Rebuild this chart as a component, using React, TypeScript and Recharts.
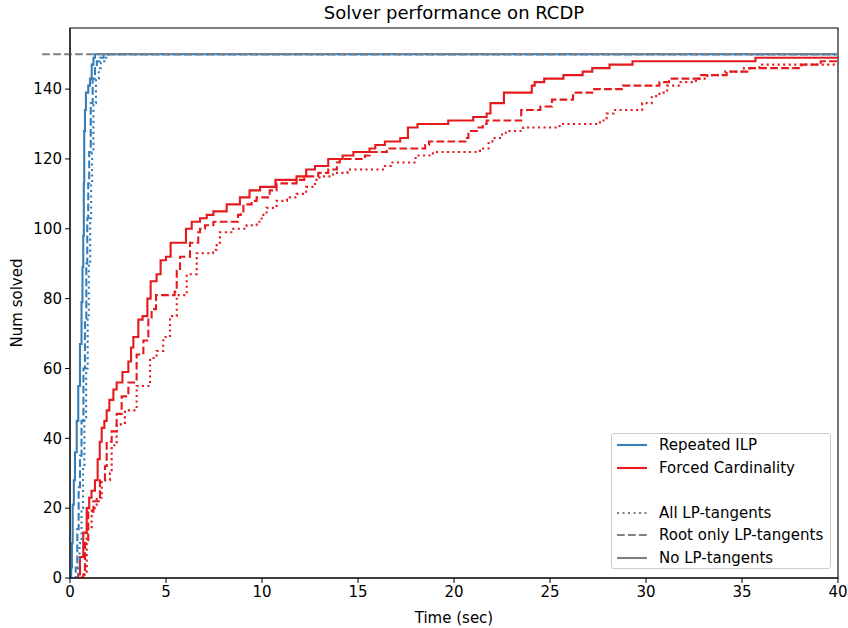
import React from 'react';
import { LineChart, Line, XAxis, YAxis, ReferenceLine, ReferenceArea, Legend } from 'recharts';

const xTicks = [0, 5, 10, 15, 20, 25, 30, 35, 40];
const yTicks = [0, 20, 40, 60, 80, 100, 120, 140];
const totalInstances = 150;

// Repeated ILP
const ilpNoneT = [0, 0.06, 0.1, 0.14, 0.2, 0.26, 0.35, 0.43, 0.52, 0.6, 0.65, 0.69, 0.72, 0.74, 0.78, 0.83, 0.95, 1.04, 1.13, 1.22, 1.3, 40];
const ilpNoneN = [0, 3, 10, 21, 28, 36, 45, 55, 67, 79, 89, 98, 113, 128, 134, 139, 141, 143, 147, 149, 150, 150];
const ilpRootT = [0, 0.3, 0.38, 0.45, 0.52, 0.6, 0.7, 0.78, 0.85, 0.9, 0.95, 1.0, 1.08, 1.18, 1.3, 1.4, 1.55, 1.75, 40];
const ilpRootN = [0, 3, 14, 26, 35, 45, 60, 74, 90, 103, 113, 122, 136, 143, 146, 148, 149, 150, 150];
const ilpAllT = [0, 0.42, 0.5, 0.6, 0.68, 0.75, 0.84, 0.92, 0.98, 1.05, 1.1, 1.15, 1.22, 1.35, 1.5, 1.6, 1.8, 2.0, 40];
const ilpAllN = [0, 3, 10, 20, 32, 45, 60, 74, 90, 103, 113, 122, 136, 143, 146, 148, 149, 150, 150];

// Forced Cardinality
const fcNoneT = [0, 0.43, 0.52, 0.69, 0.87, 1.0, 1.12, 1.3, 1.44, 1.55, 1.65, 1.79, 1.91, 2.05, 2.26, 2.43, 2.73, 3.04, 3.18, 3.3, 3.56, 3.78, 4.03, 4.2, 4.51, 4.72, 5.0, 5.24, 6.04, 6.34, 6.77, 7.12, 7.47, 8.16, 8.85, 9.35, 9.9, 10.7, 11.8, 12.3, 12.76, 13.45, 14.2, 14.76, 15.6, 15.9, 16.4, 17.2, 17.6, 18.1, 19.7, 21.0, 21.7, 21.9, 22.6, 24.05, 24.2, 24.7, 25.7, 26.7, 27.2, 28.1, 29.3, 35.7, 40];
const fcNoneN = [0, 1, 6, 13, 20, 23, 25, 28, 34, 39, 43, 45, 48, 51, 54, 56, 59, 62, 66, 69, 74, 75, 80, 85, 87, 91, 92, 96, 100, 102, 103, 104, 105, 107, 109, 111, 112, 114, 115, 117, 118, 120, 121, 122, 123, 124, 125, 126, 129, 130, 131, 132, 133, 136, 139, 141, 142, 143, 144, 145, 146, 147, 148, 149, 149];
const fcRootT = [0, 0.69, 0.78, 0.95, 1.22, 1.56, 1.82, 1.91, 2.17, 2.43, 2.69, 3.04, 3.47, 3.82, 4.08, 4.25, 4.48, 5.45, 5.56, 5.73, 6.25, 6.68, 6.77, 7.03, 7.47, 8.75, 8.9, 9.03, 9.46, 9.72, 10.4, 10.76, 11.8, 12.2, 12.93, 13.45, 13.9, 14.05, 15.36, 15.6, 16.5, 18.5, 18.7, 20.6, 20.75, 21.2, 21.5, 21.7, 23.5, 24.5, 25.1, 26.2, 27.3, 28.8, 30.7, 31.2, 32.8, 34.2, 35.4, 36.6, 38.1, 39.1, 40];
const fcRootN = [0, 1, 10, 19, 22, 28, 32, 39, 42, 47, 52, 56, 64, 68, 74, 77, 81, 82, 88, 92, 96, 99, 100, 101, 102, 104, 105, 107, 108, 109, 111, 113, 114, 115, 116, 117, 119, 120, 121, 122, 123, 124, 125, 126, 128, 129, 130, 131, 134, 135, 137, 139, 140, 141, 142, 143, 144, 145, 146, 146, 147, 148, 148];
const fcAllT = [0, 0.6, 0.87, 1.13, 1.39, 1.65, 2.08, 2.17, 2.43, 2.86, 3.47, 4.17, 4.51, 4.86, 5.21, 5.56, 6.08, 6.6, 7.45, 7.64, 7.81, 8.5, 9.2, 9.72, 9.98, 10.24, 10.76, 11.3, 11.8, 12.3, 12.76, 13.0, 13.7, 14.45, 16.4, 16.7, 18.0, 18.9, 21.35, 21.8, 22.0, 22.4, 22.7, 23.6, 25.5, 27.6, 27.95, 28.3, 29.8, 30.3, 30.7, 31.1, 31.8, 32.6, 33.2, 34.0, 35.1, 35.9, 40];
const fcAllN = [0, 1, 14, 20, 23, 28, 30, 38, 44, 48, 55, 63, 65, 69, 75, 81, 87, 93, 94, 96, 99, 100, 101, 102, 104, 106, 108, 109, 110, 112, 114, 115, 116, 117, 118, 119, 121, 122, 123, 125, 126, 127, 128, 129, 130, 131, 133, 134, 136, 138, 139, 141, 142, 143, 144, 145, 146, 147, 147];

const BLUE = '#377eb8';
const RED = '#e41a1c';
const GRAY = '#808080';
const DASHED = '7.7 3.3';
const DOTTED = '2.1 3.4';
const FONT = '"DejaVu Sans", sans-serif';
const TEXT_SIZE = 15;

const toPoints = (times: number[], counts: number[]) => times.map((t, i) => ({ t, n: counts[i] }));

const series = [
  { key: 'fc-all', data: toPoints(fcAllT, fcAllN), color: RED, dash: DOTTED },
  { key: 'fc-root', data: toPoints(fcRootT, fcRootN), color: RED, dash: DASHED },
  { key: 'fc-none', data: toPoints(fcNoneT, fcNoneN), color: RED, dash: undefined },
  { key: 'ilp-all', data: toPoints(ilpAllT, ilpAllN), color: BLUE, dash: DOTTED },
  { key: 'ilp-root', data: toPoints(ilpRootT, ilpRootN), color: BLUE, dash: DASHED },
  { key: 'ilp-none', data: toPoints(ilpNoneT, ilpNoneN), color: BLUE, dash: undefined },
];

const legendRows = [
  { label: 'Repeated ILP', color: BLUE, dash: undefined },
  { label: 'Forced Cardinality', color: RED, dash: undefined },
  { label: '', color: 'none', dash: undefined },
  { label: 'All LP-tangents', color: GRAY, dash: DOTTED },
  { label: 'Root only LP-tangents', color: GRAY, dash: DASHED },
  { label: 'No LP-tangents', color: GRAY, dash: undefined },
];

const renderLegend = () => (
  <div
    style={{
      boxSizing: 'border-box',
      width: 220,
      height: 136,
      border: '1px solid #cccccc',
      borderRadius: 3,
      background: 'rgba(255,255,255,0.8)',
      fontFamily: FONT,
      fontSize: TEXT_SIZE,
      color: '#000',
    }}
  >
    {legendRows.map((row, i) => (
      <div key={i} style={{ height: 22.5, display: 'flex', alignItems: 'center' }}>
        <svg width={42} height={10} style={{ marginLeft: 5 }}>
          {row.color !== 'none' && (
            <line x1={0} y1={5} x2={30} y2={5} stroke={row.color} strokeWidth={2.1} strokeDasharray={row.dash} />
          )}
        </svg>
        <span style={{ whiteSpace: 'nowrap' }}>{row.label}</span>
      </div>
    ))}
  </div>
);

export default function App() {
  return (
    <div style={{ position: 'absolute', left: 0, top: 0, width: 848, height: 628, background: '#fff' }}>
      <div
        style={{
          position: 'absolute',
          left: 70,
          top: 2,
          width: 768,
          textAlign: 'center',
          fontFamily: FONT,
          fontSize: 18,
          lineHeight: '22px',
          color: '#000',
        }}
      >
        Solver performance on RCDP
      </div>
      <LineChart
        width={848}
        height={628}
        margin={{ top: 28, right: 10, bottom: 0, left: 0 }}
        style={{ fontFamily: FONT }}
      >
        <XAxis
          type="number"
          dataKey="t"
          domain={[0, 40]}
          ticks={xTicks}
          allowDataOverflow
          height={50}
          tickSize={5}
          tickMargin={3}
          stroke="#000"
          tick={{ fill: '#000', fontSize: TEXT_SIZE }}
          label={{ value: 'Time (sec)', position: 'insideBottom', offset: 5, fill: '#000', fontSize: TEXT_SIZE }}
        />
        <YAxis
          type="number"
          domain={[0, 157.5]}
          ticks={yTicks}
          allowDataOverflow
          width={70}
          tickSize={5}
          tickMargin={3}
          stroke="#000"
          tick={{ fill: '#000', fontSize: TEXT_SIZE }}
          label={{
            value: 'Num solved',
            angle: -90,
            position: 'insideLeft',
            offset: 17,
            fill: '#000',
            fontSize: TEXT_SIZE,
            style: { textAnchor: 'middle' },
          }}
        />
        {series.map((s) => (
          <Line
            key={s.key}
            data={s.data}
            dataKey="n"
            type="stepAfter"
            stroke={s.color}
            strokeWidth={2.1}
            strokeDasharray={s.dash}
            dot={false}
            activeDot={false}
            isAnimationActive={false}
          />
        ))}
        <ReferenceLine
          segment={[{ x: -1.45, y: totalInstances }, { x: 40, y: totalInstances }]}
          stroke={GRAY}
          strokeWidth={2.1}
          strokeDasharray={DASHED}
          ifOverflow="visible"
        />
        <ReferenceArea x1={0} x2={40} y1={0} y2={157.5} fill="none" stroke="#000" strokeWidth={1.1} ifOverflow="visible" />
        <Legend
          content={renderLegend}
          layout="horizontal"
          verticalAlign="middle"
          align="center"
          wrapperStyle={{ left: 611, top: 433, width: 220, height: 136 }}
        />
      </LineChart>
    </div>
  );
}
